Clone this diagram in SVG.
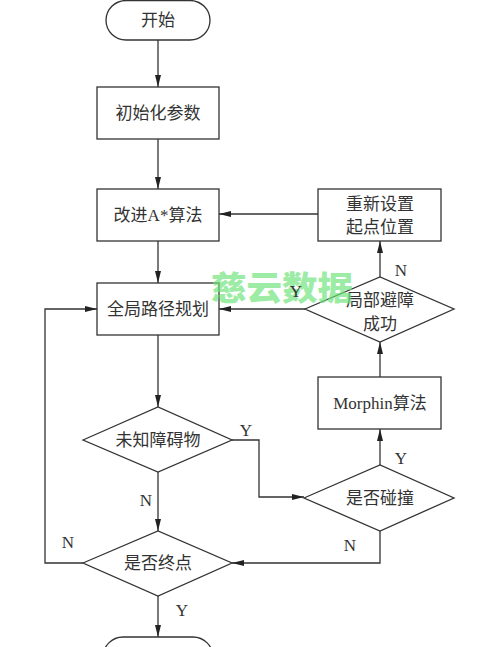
<svg xmlns="http://www.w3.org/2000/svg" width="500" height="647" viewBox="0 0 500 647">
<style>
.s{fill:#fff;stroke:#333;stroke-width:1.3}
.t{font-family:"Liberation Serif","Noto Sans CJK SC",serif;font-size:17px;fill:#333;text-anchor:middle;dominant-baseline:central}
.l{font-family:"Liberation Serif",serif;font-size:17px;fill:#333;text-anchor:middle;dominant-baseline:central}
.c{fill:none;stroke:#333;stroke-width:1.3;marker-end:url(#a)}
.wm{font-family:"Noto Sans CJK SC",sans-serif;font-weight:900;font-size:33px;fill:#6fe47e;fill-opacity:0.7;text-anchor:middle;dominant-baseline:central}
</style>
<defs>
<marker id="a" viewBox="0 0 12 6" refX="12" refY="3" markerWidth="12" markerHeight="6" markerUnits="userSpaceOnUse" orient="auto">
<path d="M0,0 L12,3 L0,6 Z" fill="#222"/>
</marker>
</defs>
<rect width="500" height="647" fill="#fff"/>
<g id="connectors">
<path class="c" d="M158,40 V87"/>
<path class="c" d="M158,139 V189"/>
<path class="c" d="M318,214 H219"/>
<path class="c" d="M158,241 V283"/>
<path class="c" d="M305,309 H219"/>
<path class="c" d="M380,277 V241"/>
<path class="c" d="M158,335 V407"/>
<path class="c" d="M232,440 H259 V497 H304"/>
<path class="c" d="M380,465 V429"/>
<path class="c" d="M380,377 V342"/>
<path class="c" d="M158,472 V531"/>
<path class="c" d="M380,531 V563 H232"/>
<path class="c" d="M83,563 H45 V309 H97"/>
<path class="c" d="M158,596 V637"/>
</g>
<g id="start"><rect class="s" x="106" y="0.5" width="104" height="39.5" rx="20"/><text class="t" x="158" y="20">开始</text></g>
<g id="init"><rect class="s" x="97" y="87" width="122" height="52"/><text class="t" x="158" y="113">初始化参数</text></g>
<g id="astar"><rect class="s" x="97" y="189" width="122" height="52"/><text class="t" x="158" y="215">改进A*算法</text></g>
<g id="reset"><rect class="s" x="318" y="189" width="123" height="52"/><text class="t" x="380" y="204">重新设置</text><text class="t" x="380" y="227">起点位置</text></g>
<g id="global"><rect class="s" x="97" y="283" width="122" height="52"/><text class="t" x="158" y="309">全局路径规划</text></g>
<g id="local"><polygon class="s" points="305,309 380,277 454,309 380,342"/><text class="t" x="380" y="300">局部避障</text><text class="t" x="380" y="324">成功</text></g>
<g id="morphin"><rect class="s" x="318" y="377" width="123" height="52"/><text class="t" x="380" y="403">Morphin算法</text></g>
<g id="unknown"><polygon class="s" points="83,440 158,407 232,440 158,472"/><text class="t" x="158" y="440">未知障碍物</text></g>
<g id="collide"><polygon class="s" points="304,498 380,465 454,498 380,531"/><text class="t" x="380" y="498">是否碰撞</text></g>
<g id="goal"><polygon class="s" points="83,563 158,531 232,563 158,596"/><text class="t" x="158" y="563">是否终点</text></g>
<g id="end"><rect class="s" x="103" y="637" width="110" height="40" rx="20"/></g>
<text class="wm" x="282" y="286" textLength="142" lengthAdjust="spacingAndGlyphs">慈云数据</text>
<g id="labels">
<text class="l" x="401" y="270">N</text>
<text class="l" x="296" y="291">Y</text>
<text class="l" x="246" y="430">Y</text>
<text class="l" x="401" y="458">Y</text>
<text class="l" x="146" y="500">N</text>
<text class="l" x="68" y="542">N</text>
<text class="l" x="350" y="545">N</text>
<text class="l" x="182" y="610">Y</text>
</g>
</svg>
